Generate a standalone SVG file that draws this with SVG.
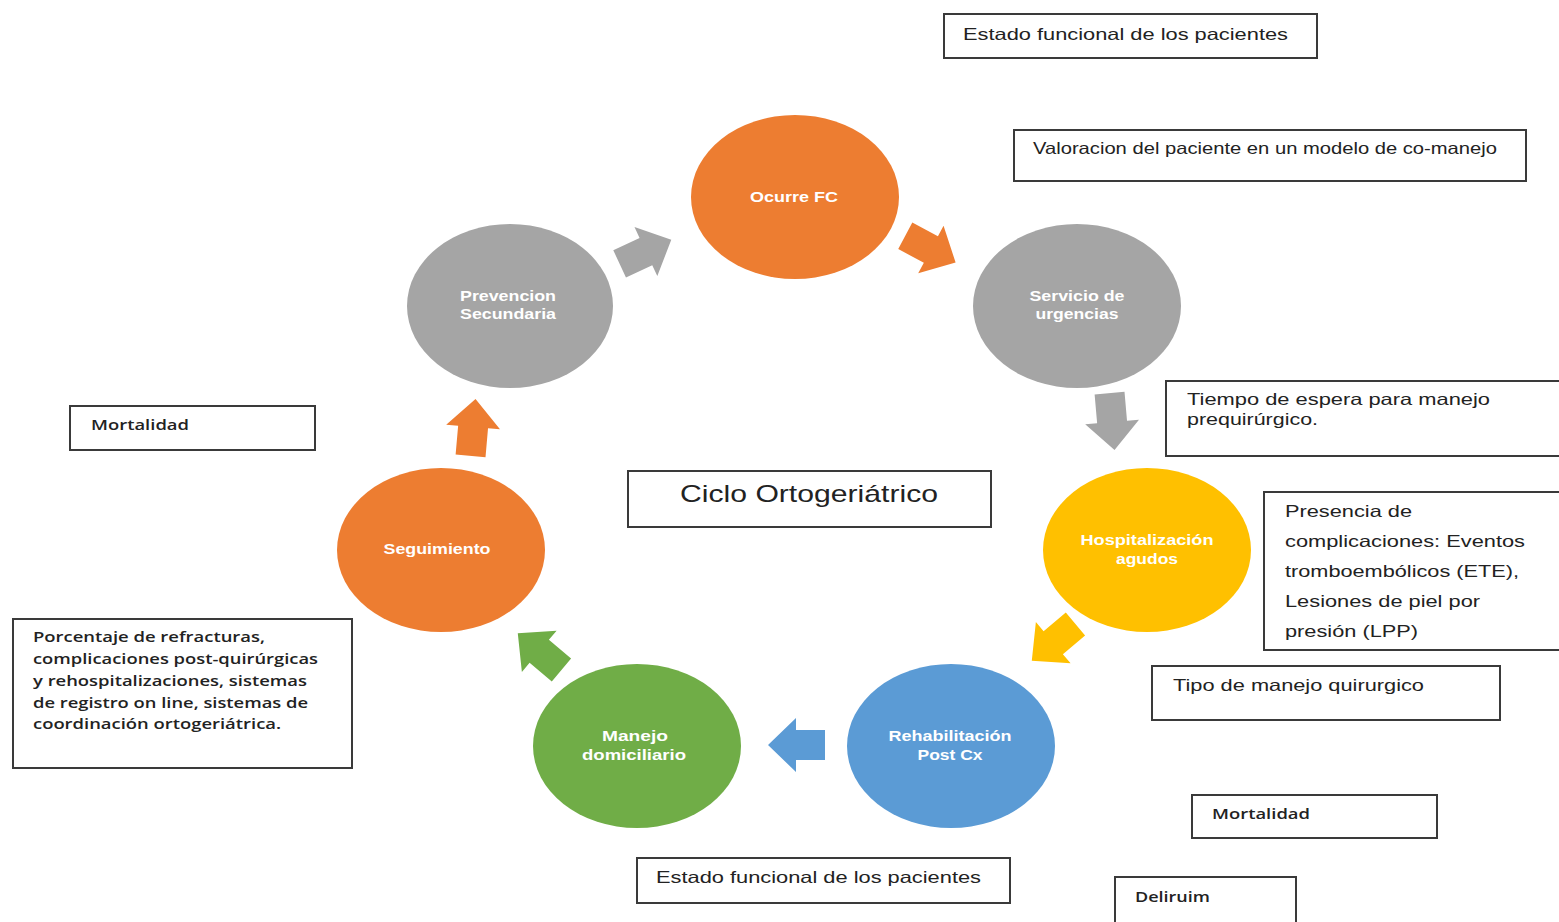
<svg xmlns="http://www.w3.org/2000/svg" width="1559" height="922" viewBox="0 0 1559 922">
<defs>
<style>
.node text{font-family:"Liberation Sans",Arial,sans-serif;font-size:15px;font-weight:bold;fill:#ffffff;text-anchor:middle}
.box rect{fill:#ffffff;stroke:#3a3a3a;stroke-width:2}
.box text{font-family:"Liberation Sans",Arial,sans-serif;font-size:16.5px;fill:#222222}
.cal text{font-family:"Open Sans","Liberation Sans",sans-serif;font-size:14.5px;fill:#222222;font-weight:600}
.orange{fill:#ED7D31}.gray{fill:#A5A5A5}.yellow{fill:#FFC000}.blue{fill:#5B9BD5}.green{fill:#70AD47}
</style>
<path id="arr" d="M-28,-15 L1,-15 L1,-27 L29,0 L1,27 L1,15 L-28,15 Z"/>
</defs>
<rect width="1559" height="922" fill="#ffffff"/>

<g id="connectors">
<use href="#arr" class="gray" transform="translate(645,252) rotate(-25)"/>
<use href="#arr" class="orange" transform="translate(930,249) rotate(28)"/>
<use href="#arr" class="gray" transform="translate(1112,421) rotate(85)"/>
<use href="#arr" class="yellow" transform="translate(1054,642) rotate(140)"/>
<use href="#arr" class="blue" transform="translate(797,745) rotate(180)"/>
<use href="#arr" class="green" transform="translate(540,652) rotate(-140)"/>
<use href="#arr" class="orange" transform="translate(473,428) rotate(-85)"/>
</g>

<g id="n-ocurre" class="node"><ellipse cx="795" cy="197" rx="104" ry="82" class="orange"/><text x="794" y="202" textLength="88" lengthAdjust="spacingAndGlyphs">Ocurre FC</text></g>
<g id="n-servicio" class="node"><ellipse cx="1077" cy="306" rx="104" ry="82" class="gray"/><text x="1077" y="301" textLength="95" lengthAdjust="spacingAndGlyphs">Servicio de</text><text x="1077" y="319" textLength="83" lengthAdjust="spacingAndGlyphs">urgencias</text></g>
<g id="n-hosp" class="node"><ellipse cx="1147" cy="550" rx="104" ry="82" class="yellow"/><text x="1147" y="545" textLength="133" lengthAdjust="spacingAndGlyphs">Hospitalización</text><text x="1147" y="564" textLength="62" lengthAdjust="spacingAndGlyphs">agudos</text></g>
<g id="n-rehab" class="node"><ellipse cx="951" cy="746" rx="104" ry="82" class="blue"/><text x="950" y="741" textLength="123" lengthAdjust="spacingAndGlyphs">Rehabilitación</text><text x="950" y="760" textLength="65" lengthAdjust="spacingAndGlyphs">Post Cx</text></g>
<g id="n-manejo" class="node"><ellipse cx="637" cy="746" rx="104" ry="82" class="green"/><text x="635" y="741" textLength="66" lengthAdjust="spacingAndGlyphs">Manejo</text><text x="634" y="760" textLength="104" lengthAdjust="spacingAndGlyphs">domiciliario</text></g>
<g id="n-seguimiento" class="node"><ellipse cx="441" cy="550" rx="104" ry="82" class="orange"/><text x="437" y="554" textLength="107" lengthAdjust="spacingAndGlyphs">Seguimiento</text></g>
<g id="n-prevencion" class="node"><ellipse cx="510" cy="306" rx="103" ry="82" class="gray"/><text x="508" y="301" textLength="96" lengthAdjust="spacingAndGlyphs">Prevencion</text><text x="508" y="319" textLength="96" lengthAdjust="spacingAndGlyphs">Secundaria</text></g>

<g id="b-estado1" class="box"><rect x="944" y="14" width="373" height="44"/><text x="963" y="40" textLength="325" lengthAdjust="spacingAndGlyphs">Estado funcional de los pacientes</text></g>
<g id="b-valoracion" class="box"><rect x="1014" y="130" width="512" height="51"/><text x="1033" y="154" textLength="464" lengthAdjust="spacingAndGlyphs">Valoracion del paciente en un modelo de co-manejo</text></g>
<g id="b-tiempo" class="box"><rect x="1166" y="381" width="400" height="75"/><text x="1187" y="405" textLength="303" lengthAdjust="spacingAndGlyphs">Tiempo de espera para manejo</text><text x="1187" y="425" textLength="131" lengthAdjust="spacingAndGlyphs">prequirúrgico.</text></g>
<g id="b-presencia" class="box"><rect x="1264" y="492" width="300" height="158"/>
<text x="1285" y="517" textLength="127" lengthAdjust="spacingAndGlyphs">Presencia de</text><text x="1285" y="547" textLength="240" lengthAdjust="spacingAndGlyphs">complicaciones: Eventos</text><text x="1285" y="577" textLength="234" lengthAdjust="spacingAndGlyphs">tromboembólicos (ETE),</text><text x="1285" y="607" textLength="195" lengthAdjust="spacingAndGlyphs">Lesiones de piel por</text><text x="1285" y="637" textLength="133" lengthAdjust="spacingAndGlyphs">presión (LPP)</text></g>
<g id="b-tipo" class="box"><rect x="1152" y="666" width="348" height="54"/><text x="1173" y="691" textLength="251" lengthAdjust="spacingAndGlyphs">Tipo de manejo quirurgico</text></g>
<g id="b-mortalidad2" class="box cal"><rect x="1192" y="795" width="245" height="43"/><text x="1212" y="819" textLength="98" lengthAdjust="spacingAndGlyphs">Mortalidad</text></g>
<g id="b-deliruim" class="box cal"><rect x="1115" y="877" width="181" height="60"/><text x="1135" y="902" textLength="75" lengthAdjust="spacingAndGlyphs">Deliruim</text></g>
<g id="b-estado2" class="box"><rect x="637" y="858" width="373" height="45"/><text x="656" y="883" textLength="325" lengthAdjust="spacingAndGlyphs">Estado funcional de los pacientes</text></g>
<g id="b-mortalidad1" class="box cal"><rect x="70" y="406" width="245" height="44"/><text x="91" y="430" textLength="98" lengthAdjust="spacingAndGlyphs">Mortalidad</text></g>
<g id="b-porcentaje" class="box cal"><rect x="13" y="619" width="339" height="149"/>
<text x="33" y="642" textLength="232" lengthAdjust="spacingAndGlyphs">Porcentaje de refracturas,</text><text x="33" y="664" textLength="285" lengthAdjust="spacingAndGlyphs">complicaciones post-quirúrgicas</text><text x="33" y="686" textLength="274" lengthAdjust="spacingAndGlyphs">y rehospitalizaciones, sistemas</text><text x="33" y="708" textLength="275" lengthAdjust="spacingAndGlyphs">de registro on line, sistemas de</text><text x="33" y="729" textLength="248" lengthAdjust="spacingAndGlyphs">coordinación ortogeriátrica.</text></g>
<g id="b-ciclo" class="box"><rect x="628" y="471" width="363" height="56"/><text x="680" y="502" style="font-size:24px" textLength="258" lengthAdjust="spacingAndGlyphs">Ciclo Ortogeriátrico</text></g>
</svg>
